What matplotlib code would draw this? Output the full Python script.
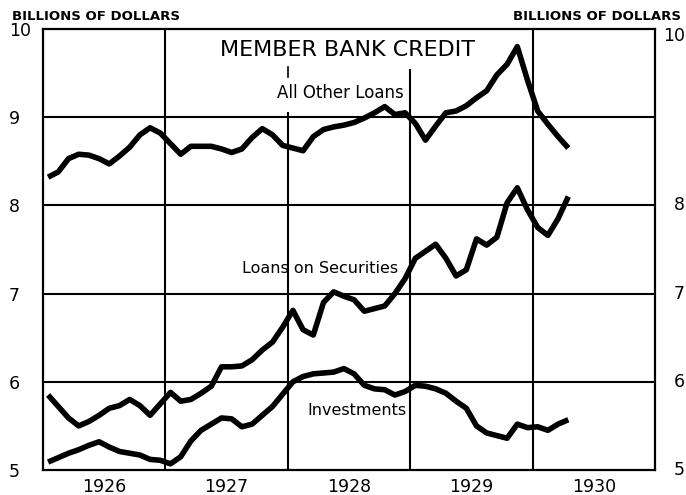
import matplotlib
matplotlib.use("Agg")
import matplotlib.pyplot as plt
from matplotlib.transforms import blended_transform_factory

# ---- data (monthly, Jan 1926 .. Apr 1930), billions of dollars ----
all_other_loans = [8.32, 8.38, 8.53, 8.58, 8.57, 8.53, 8.47, 8.56, 8.66, 8.80, 8.88, 8.82,
                   8.70, 8.58, 8.67, 8.67, 8.67, 8.64, 8.60, 8.64, 8.77, 8.87, 8.80, 8.68,
                   8.65, 8.62, 8.78, 8.86, 8.89, 8.91, 8.94, 8.99, 9.05, 9.12, 9.03, 9.05,
                   8.93, 8.74, 8.90, 9.05, 9.07, 9.13, 9.22, 9.30, 9.48, 9.60, 9.80, 9.42,
                   9.07, 8.92, 8.78, 8.65]
loans_on_securities = [5.85, 5.72, 5.59, 5.50, 5.55, 5.62, 5.70, 5.73, 5.80, 5.73, 5.62, 5.75,
                       5.88, 5.78, 5.80, 5.87, 5.95, 6.17, 6.17, 6.18, 6.25, 6.36, 6.45, 6.62,
                       6.81, 6.59, 6.53, 6.90, 7.02, 6.97, 6.93, 6.80, 6.83, 6.86, 7.00, 7.17,
                       7.40, 7.48, 7.56, 7.40, 7.20, 7.27, 7.62, 7.55, 7.64, 8.03, 8.20, 7.95,
                       7.75, 7.66, 7.85, 8.10]
investments = [5.09, 5.14, 5.19, 5.23, 5.28, 5.32, 5.26, 5.21, 5.19, 5.17, 5.12, 5.11,
               5.07, 5.15, 5.33, 5.45, 5.52, 5.59, 5.58, 5.49, 5.52, 5.62, 5.72, 5.86,
               6.00, 6.06, 6.09, 6.10, 6.11, 6.15, 6.09, 5.96, 5.92, 5.91, 5.85, 5.89,
               5.96, 5.95, 5.92, 5.87, 5.78, 5.70, 5.50, 5.42, 5.39, 5.36, 5.52, 5.48,
               5.49, 5.45, 5.52, 5.57]
years = [1926, 1927, 1928, 1929, 1930]
y_ticks = [5, 6, 7, 8, 9, 10]
right_ticks = [5, 6, 7, 8, 10]

x = [1926 + (i + 0.5) / 12 for i in range(len(all_other_loans))]

fig = plt.figure(figsize=(6.86, 4.95), dpi=100)
ax = fig.add_axes([43 / 686, 25 / 495, 612 / 686, 441 / 495])
ax.set_xlim(1926, 1931)
ax.set_ylim(5, 10)

for s in ax.spines.values():
    s.set_linewidth(1.6)
    s.set_color("black")

# grid
for v in [6, 7, 8, 9]:
    ax.axhline(v, color="black", lw=1.5, zorder=1)
ax.plot([1927, 1927], [5, 10], color="black", lw=1.5, zorder=1)
ax.plot([1928, 1928], [5, 9.05], color="black", lw=1.5, zorder=1)
ax.plot([1928, 1928], [9.46, 9.57], color="black", lw=1.2, zorder=1)
ax.plot([1929, 1929], [5, 9.54], color="black", lw=1.5, zorder=1)
ax.plot([1930, 1930], [5, 10], color="black", lw=1.5, zorder=1)

for series in (all_other_loans, loans_on_securities, investments):
    ax.plot(x, series, color="black", lw=4, solid_joinstyle="round",
            solid_capstyle="butt", zorder=3)

ax.set_xticks([y + 0.5 for y in years])
ax.set_xticklabels([str(y) for y in years], fontsize=12.5)
ax.tick_params(axis="x", length=0, pad=6)
ax.set_yticks(y_ticks)
ax.set_yticklabels([str(v) for v in y_ticks], fontsize=12.5)
ax.tick_params(axis="y", length=0, pad=0)
for lab in ax.get_yticklabels():
    lab.set_horizontalalignment("left")
    lab.set_x(-34 / 612)

tr = blended_transform_factory(fig.transFigure, ax.transData)
for v in right_ticks:
    ax.text(685 / 686, v - 0.08 if v == 10 else v, str(v), transform=tr,
            ha="right", va="center", fontsize=12.5)

fig.text(12 / 686, 1 - 17 / 495, "BILLIONS OF DOLLARS", fontsize=9.5,
         fontweight="bold", ha="left", va="center")
fig.text(681 / 686, 1 - 17 / 495, "BILLIONS OF DOLLARS", fontsize=9.5,
         fontweight="bold", ha="right", va="center")

ax.text(1926 + (348 - 43) / 122.4, 9.76, "MEMBER BANK CREDIT", fontsize=16,
        ha="center", va="center")
ax.text(1926 + (340 - 43) / 122.4, 9.28, "All Other Loans", fontsize=12,
        ha="center", va="center")
ax.text(1926 + (320 - 43) / 122.4, 7.29, "Loans on Securities", fontsize=11.5,
        ha="center", va="center")
ax.text(1926 + (357 - 43) / 122.4, 5.67, "Investments", fontsize=11.5,
        ha="center", va="center")

fig.savefig("out.png", dpi=100)
